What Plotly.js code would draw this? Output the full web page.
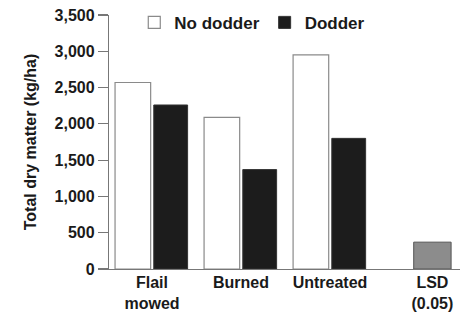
<!DOCTYPE html>
<html>
<head>
<meta charset="utf-8">
<script src="https://cdn.plot.ly/plotly-3.0.1.min.js"></script>
<style>html,body{margin:0;padding:0;background:#fff;}#chart{width:468px;height:313px;}</style>
</head>
<body>
<div id="chart"></div>
<script>
// Data
const categories = ['Flail<br>mowed', 'Burned', 'Untreated'];
const noDodder = [2570, 2090, 2950];
const dodder = [2260, 1370, 1800];
const lsdLabel = ['LSD<br>(0.05)'];
const lsdValue = [370];

// layout positions (numeric axis so the LSD bar can sit a little further right)
const catPos = [0, 1, 2];
const lsdPos = [3.15];

const font = 'Liberation Sans, Arial, Helvetica, sans-serif';

const traces = [
  {
    type: 'bar', name: 'No dodder', x: catPos, y: noDodder,
    width: 0.40, offset: -0.415,
    marker: {color: '#ffffff', line: {color: '#8a8a8a', width: 1.2}},
    hoverinfo: 'skip'
  },
  {
    type: 'bar', name: 'Dodder', x: catPos, y: dodder,
    width: 0.38, offset: 0.02,
    marker: {color: '#1c1c1c', line: {color: '#333333', width: 1}},
    hoverinfo: 'skip'
  },
  {
    type: 'bar', name: 'LSD', x: lsdPos, y: lsdValue,
    width: 0.42, offset: -0.21, showlegend: false,
    marker: {color: '#8c8c8c', line: {color: '#555555', width: 1}},
    hoverinfo: 'skip'
  }
];

const layout = {
  width: 468, height: 313,
  margin: {l: 109, r: 8, t: 15, b: 44, autoexpand: false},
  paper_bgcolor: '#ffffff', plot_bgcolor: '#ffffff',
  barmode: 'overlay',
  font: {family: font, color: '#1a1a1a'},
  showlegend: true,
  legend: {
    orientation: 'h', x: 0.072, y: 1.04, xanchor: 'left', yanchor: 'top',
    font: {size: 17, family: font, color: '#1a1a1a', weight: 'bold'},
    bgcolor: 'rgba(0,0,0,0)', itemwidth: 30, traceorder: 'normal'
  },
  xaxis: {
    range: [-0.483, 3.46],
    tickvals: catPos.concat(lsdPos),
    ticktext: categories.concat(lsdLabel),
    ticks: '', showgrid: false, zeroline: false,
    showline: true, linecolor: '#777777', linewidth: 1.2,
    tickfont: {size: 16, family: font, color: '#1a1a1a', weight: 'bold'},
    ticklabelstandoff: -1,
    fixedrange: true
  },
  yaxis: {
    range: [0, 3500], dtick: 500, tickformat: ',d',
    ticks: 'outside', ticklen: 10, tickcolor: '#777777', tickwidth: 1.2,
    showgrid: false, zeroline: false,
    showline: true, linecolor: '#777777', linewidth: 1.2,
    tickfont: {size: 16, family: font, color: '#1a1a1a', weight: 'bold'},
    title: {text: 'Total dry matter (kg/ha)', font: {size: 16, family: font, color: '#1a1a1a', weight: 'bold'}, standoff: 14},
    fixedrange: true
  }
};

Plotly.newPlot('chart', traces, layout, {staticPlot: true, displayModeBar: false});
</script>
</body>
</html>
